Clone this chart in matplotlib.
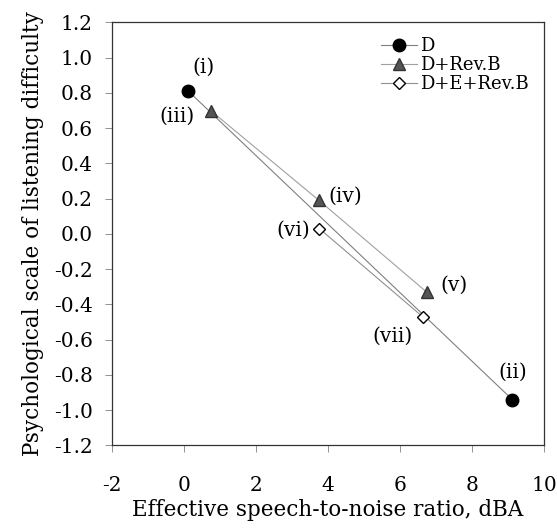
import numpy as np
import matplotlib
matplotlib.use('Agg')
import matplotlib.pyplot as plt

#%%
# data
d_x = [0.12, 9.12]
d_y = [0.81, -0.94]
rb_x = [0.74, 3.75, 6.74]
rb_y = [0.70, 0.19, -0.33]
erb_x = [3.76, 6.63]
erb_y = [0.03, -0.47]

d_lab = ['(i)', '(ii)']
rb_lab = ['(iii)', '(iv)', '(v)']
erb_lab = ['(vi)', '(vii)']

xticks = [-2, 0, 2, 4, 6, 8, 10]
yticks = [1.2, 1.0, 0.8, 0.6, 0.4, 0.2, 0.0, -0.2, -0.4, -0.6, -0.8, -1.0, -1.2]

#%%
plt.rcParams['font.family'] = 'DejaVu Serif'

fig = plt.figure(figsize=(5.57, 5.29), dpi=100)
ax = fig.add_axes([0.201, 0.158, 0.7757, 0.7997])

ax.plot(d_x, d_y, color='#808080', lw=0.8, marker='o', ms=9,
        mfc='black', mec='black', label='D', zorder=3)
ax.plot(rb_x, rb_y, color='#a0a0a0', lw=0.8, marker='^', ms=9,
        mfc='#555555', mec='#333333', label='D+Rev.B', zorder=3)
ax.plot(erb_x, erb_y, color='#909090', lw=0.8, marker='D', ms=6,
        mfc='white', mec='black', mew=1.0, label='D+E+Rev.B', zorder=4)

# point labels
offs = {'(i)': (11, 17), '(ii)': (0, 20), '(iii)': (-24, -4), '(iv)': (19, 3),
        '(v)': (20, 5), '(vi)': (-19, -1.5), '(vii)': (-22, -14)}
for xs, ys, labs in [(d_x, d_y, d_lab), (rb_x, rb_y, rb_lab), (erb_x, erb_y, erb_lab)]:
    for x, y, s in zip(xs, ys, labs):
        ax.annotate(s, (x, y), xytext=offs[s], textcoords='offset points',
                    ha='center', va='center', fontsize=14.5)

ax.set_xlim(-2, 10)
ax.set_ylim(-1.2, 1.2)
ax.set_xticks(xticks)
ax.set_yticks(yticks)
ax.set_yticklabels([('-%.1f' % abs(v)) if v < 0 else '%.1f' % abs(v) for v in yticks])
ax.set_xticklabels([('-%d' % abs(v)) if v < 0 else str(v) for v in xticks])
ax.tick_params(direction='out', length=5, width=0.6, color='#808080',
               labelsize=14.5, pad=9)
ax.tick_params(axis='x', pad=17)
for sp in ax.spines.values():
    sp.set_linewidth(0.9)
    sp.set_color('#333333')

ax.set_xlabel('Effective speech-to-noise ratio, dBA', fontsize=15.5, labelpad=3)
ax.set_ylabel('Psychological scale of listening difficulty', fontsize=15.5, labelpad=7)

ax.legend(loc='upper right', bbox_to_anchor=(0.995, 0.995), frameon=False,
          fontsize=13, handlelength=2.0, handletextpad=0.2,
          labelspacing=0.05, borderaxespad=0.3)

plt.savefig('out.png', dpi=100)
